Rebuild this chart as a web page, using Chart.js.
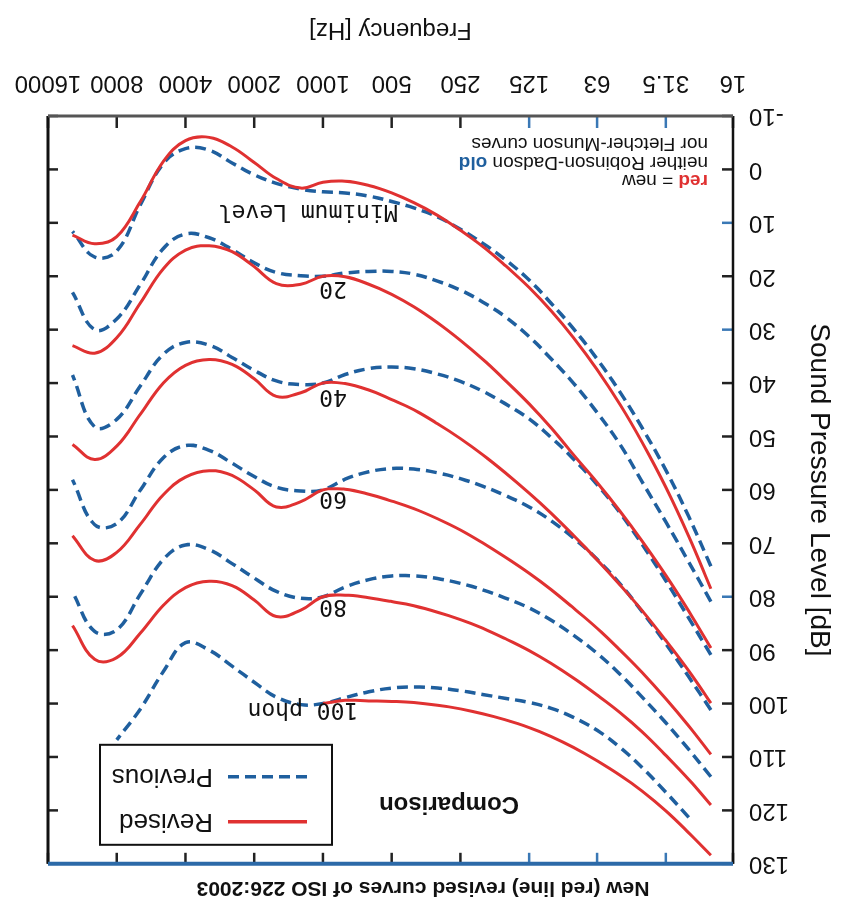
<!DOCTYPE html>
<html>
<head>
<meta charset="utf-8">
<script src="https://cdn.jsdelivr.net/npm/chart.js@4.4.1/dist/chart.umd.min.js"></script>
<style>
  html, body { margin: 0; padding: 0; background: #fff; }
  #wrap { width: 846px; height: 904px; overflow: hidden; }
  /* the reference picture is printed upside down */
  #iso-chart { display: block; transform: rotate(180deg); }
</style>
</head>
<body>
<div id="wrap"><canvas id="iso-chart" width="846" height="904"></canvas></div>
<script>
// third-octave frequencies [Hz]
var freqs = [20, 25, 31.5, 40, 50, 63, 80, 100, 125, 160, 200, 250, 315, 400, 500,
             630, 800, 1000, 1250, 1600, 2000, 2500, 3150, 4000, 5000, 6300, 8000, 10000, 12500];

var xTicks = [16, 31.5, 63, 125, 250, 500, 1000, 2000, 4000, 8000, 16000];

// revised curves (ISO 226:2003), dB SPL
var revisedMin = [78.5, 68.7, 59.5, 51.1, 44.0, 37.5, 31.5, 26.5, 22.1, 17.9, 14.4, 11.4, 8.6, 6.2, 4.4,
                  3.0, 2.2, 2.4, 3.5, 1.7, -1.3, -4.2, -6.0, -5.4, -1.5, 6.0, 12.6, 13.9, 12.3];
var revised20 = [89.6, 82.7, 76.0, 69.6, 64.0, 58.6, 53.4, 48.4, 43.9, 39.4, 35.5, 32.0, 28.7, 25.7, 23.4,
                 21.5, 20.1, 20.0, 21.5, 21.4, 18.2, 15.4, 14.3, 15.1, 18.6, 25.0, 31.5, 34.4, 33.0];
var revised40 = [99.9, 93.9, 88.2, 82.6, 77.8, 73.1, 68.5, 64.4, 60.6, 56.7, 53.4, 50.4, 47.6, 45.0, 43.1,
                 41.3, 40.1, 40.0, 41.8, 42.5, 39.2, 36.5, 35.6, 36.7, 40.0, 45.8, 51.8, 54.3, 51.5];
var revised60 = [109.5, 104.2, 99.1, 94.2, 90.0, 85.9, 82.1, 78.7, 75.6, 72.5, 69.9, 67.5, 65.4, 63.5, 62.1,
                 60.8, 59.9, 60.0, 62.2, 63.2, 60.0, 57.3, 56.4, 57.6, 60.9, 66.4, 71.7, 73.2, 68.6];
var revised80 = [119.0, 114.2, 109.7, 105.3, 101.7, 98.4, 95.2, 92.5, 90.1, 87.8, 85.9, 84.3, 82.9, 81.7, 80.9,
                 80.2, 79.7, 80.0, 82.5, 83.7, 80.6, 77.9, 77.1, 78.3, 81.6, 86.8, 91.4, 91.7, 85.4];
var revised100 = [128.4, 124.2, 120.1, 116.4, 113.4, 110.7, 108.2, 106.2, 104.5, 103.0, 101.9, 101.0, 100.3, 99.8, 99.6,
                  99.5, 99.4, 100.0, null, null, null, null, null, null, null, null, null, null, null];

// previous curves (blue dashed)
var previousMin = [74.3, 65.0, 56.3, 48.4, 41.7, 35.5, 29.8, 25.1, 20.7, 16.8, 13.8, 11.2, 8.9, 7.2, 6.0,
                   5.0, 4.4, 4.2, 3.7, 2.6, 1.0, -1.2, -3.6, -3.9, -1.1, 6.6, 15.3, 16.4, 11.6];
var previous20 = [80.9, 73.5, 66.0, 58.5, 51.5, 45.5, 40.0, 35.5, 31.3, 27.5, 24.8, 22.6, 20.9, 19.6, 19.1,
                  19.1, 19.4, 20.0, 19.9, 19.3, 17.5, 15.0, 12.8, 12.1, 14.8, 21.5, 28.0, 30.0, 23.0];
var previous40 = [90.9, 84.0, 77.0, 70.2, 64.3, 59.0, 54.2, 50.2, 46.7, 43.8, 41.5, 39.7, 38.3, 37.3, 37.0,
                  37.3, 38.4, 40.0, 40.3, 39.6, 37.6, 35.2, 32.9, 32.4, 34.6, 40.5, 46.8, 48.2, 38.5];
var previous60 = [101.2, 95.0, 88.8, 82.8, 77.6, 73.0, 69.0, 65.8, 63.2, 61.0, 59.3, 57.9, 56.8, 56.1, 56.0,
                  56.6, 58.0, 60.0, 60.2, 59.5, 57.5, 55.0, 52.6, 51.7, 54.0, 60.0, 66.3, 66.5, 58.1];
var previous80 = [113.7, 108.6, 103.6, 98.8, 94.5, 90.6, 87.2, 84.4, 82.1, 80.2, 78.7, 77.5, 76.6, 76.1, 76.1,
                  76.8, 78.2, 80.0, 80.3, 79.0, 76.5, 73.8, 71.2, 70.3, 73.0, 79.5, 86.2, 86.5, 79.1];
var previous100 = [null, 121.3, 116.6, 112.0, 108.2, 105.0, 102.6, 100.9, 99.8, 99.0, 98.3, 97.6, 97.1, 96.9, 97.1,
                   97.8, 98.9, 100.0, 100.2, 98.8, 96.0, 93.0, 90.0, 88.6, 94.0, 101.0, 106.8, null, null];

// curve labels: text, frequency, level (left end of the baseline)
var curveLabels = [
  ['Minimum Level', 470, 6.7],
  ['20', 785, 21.0],
  ['40', 785, 41.3],
  ['60', 785, 60.4],
  ['80', 785, 80.6],
  ['100 phon', 700, 99.9]
];

var RED = '#e03131';
var BLUE = '#1f5f9e';
var NARROW = "'Liberation Sans Narrow', 'Liberation Sans', Arial, sans-serif";
var SANS = "'Liberation Sans', Arial, sans-serif";

function toPoints(values) {
  var pts = [];
  for (var i = 0; i < freqs.length; i++) {
    if (values[i] !== null) pts.push({ x: freqs[i], y: values[i] });
  }
  return pts;
}

function revised(values) {
  return { label: 'Revised', data: toPoints(values), borderColor: RED, borderWidth: 3,
           tension: 0.4, pointRadius: 0, fill: false };
}
function previous(values) {
  return { label: 'Previous', data: toPoints(values), borderColor: BLUE, borderWidth: 3.5,
           borderDash: [11, 6], tension: 0.4, pointRadius: 0, fill: false };
}

function line(ctx, x1, y1, x2, y2) {
  ctx.beginPath(); ctx.moveTo(x1, y1); ctx.lineTo(x2, y2); ctx.stroke();
}

// frame with inward ticks, curve labels, notes and legend box
var extras = {
  id: 'extras',
  afterDraw: function (chart) {
    var ctx = chart.ctx, ca = chart.chartArea;
    var xs = chart.scales.x, ys = chart.scales.y;
    ctx.save();

    // ticks
    ctx.lineWidth = 2.5;
    ys.ticks.forEach(function (t) {
      var py = ys.getPixelForValue(t.value);
      ctx.strokeStyle = [10, 30, 80].indexOf(t.value) >= 0 ? '#3a78b5' : '#222';
      line(ctx, ca.left, py, ca.left + 11, py);
      ctx.strokeStyle = '#222';
      line(ctx, ca.right - 10, py, ca.right, py);
    });
    xs.ticks.forEach(function (t) {
      var px = xs.getPixelForValue(t.value);
      ctx.strokeStyle = [31.5, 63, 125].indexOf(t.value) >= 0 ? '#3a78b5' : '#222';
      line(ctx, px, ca.bottom, px, ca.bottom - 12);
      line(ctx, px, ca.top, px, ca.top + 11);
    });

    // frame
    ctx.strokeStyle = '#111'; ctx.lineWidth = 2.5;
    line(ctx, ca.left, ca.top, ca.left, ca.bottom);
    ctx.lineWidth = 3;
    line(ctx, ca.right, ca.top, ca.right, ca.bottom);
    ctx.strokeStyle = '#555'; ctx.lineWidth = 3;
    line(ctx, ca.left, ca.bottom, ca.right, ca.bottom);
    ctx.strokeStyle = '#2c6aa8'; ctx.lineWidth = 4;
    line(ctx, ca.left, ca.top, ca.right, ca.top);

    // curve labels
    ctx.fillStyle = '#111';
    ctx.font = "23px 'DejaVu Sans Mono', monospace";
    ctx.textAlign = 'left'; ctx.textBaseline = 'alphabetic';
    curveLabels.forEach(function (l) {
      ctx.fillText(l[0], xs.getPixelForValue(l[1]), ys.getPixelForValue(l[2]));
    });

    // note
    var nx = ca.left + 25;
    ctx.textBaseline = 'middle';
    ctx.font = 'bold 19px ' + SANS; ctx.fillStyle = RED;
    ctx.fillText('red', nx, ca.bottom - 64);
    var w = ctx.measureText('red').width;
    ctx.font = '19px ' + SANS; ctx.fillStyle = '#111';
    ctx.fillText(' = new', nx + w, ca.bottom - 64);
    ctx.fillText('neither Robinson-Dadson ', nx, ca.bottom - 46);
    w = ctx.measureText('neither Robinson-Dadson ').width;
    ctx.font = 'bold 19px ' + SANS; ctx.fillStyle = BLUE;
    ctx.fillText('old', nx + w, ca.bottom - 46);
    ctx.font = '19px ' + SANS; ctx.fillStyle = '#111';
    ctx.fillText('nor Fletcher-Munson curves', nx, ca.bottom - 27);

    // legend
    var bx = ca.right - 284, by = ca.top + 19;
    ctx.fillStyle = '#fff';
    ctx.fillRect(bx, by, 232, 100);
    ctx.strokeStyle = '#111'; ctx.lineWidth = 2;
    ctx.strokeRect(bx, by, 232, 100);
    ctx.lineWidth = 3.5;
    ctx.strokeStyle = RED;
    line(ctx, bx + 25, by + 23, bx + 104, by + 23);
    ctx.strokeStyle = BLUE; ctx.setLineDash([11, 6]);
    line(ctx, bx + 25, by + 68, bx + 104, by + 68);
    ctx.setLineDash([]);
    ctx.fillStyle = '#111';
    ctx.font = '26px ' + SANS;
    ctx.fillText('Revised', bx + 119, by + 24);
    ctx.fillText('Previous', bx + 119, by + 69);
    ctx.font = 'bold 24px ' + NARROW;
    ctx.textAlign = 'center';
    ctx.fillText('Comparison', ca.left + 284, ca.top + 60);

    ctx.restore();
  }
};

var ctx = document.getElementById('iso-chart').getContext('2d');
var chart = new Chart(ctx, {
  type: 'line',
  data: {
    datasets: [
      revised(revisedMin), revised(revised20), revised(revised40),
      revised(revised60), revised(revised80), revised(revised100),
      previous(previousMin), previous(previous20), previous(previous40),
      previous(previous60), previous(previous80), previous(previous100)
    ]
  },
  options: {
    responsive: false,
    animation: false,
    devicePixelRatio: 1,
    layout: { padding: 0 },
    plugins: {
      legend: { display: false },
      tooltip: { enabled: false },
      title: {
        display: true,
        text: 'New (red line) revised curves of ISO 226:2003',
        color: '#111',
        font: { family: SANS, size: 21, weight: 'bold' },
        padding: { top: 4, bottom: 11 }
      }
    },
    scales: {
      x: {
        type: 'logarithmic',
        min: 16,
        max: 16000,
        grid: { display: false, drawTicks: false },
        border: { display: false },
        afterBuildTicks: function (scale) {
          scale.ticks = xTicks.map(function (v) { return { value: v }; });
        },
        afterFit: function (scale) {
          scale.height = 116;
          scale.paddingRight = 48;
        },
        ticks: {
          autoSkip: false,
          maxRotation: 0,
          padding: 19,
          color: '#111',
          font: { family: SANS, size: 24 },
          callback: function (v) { return String(v); }
        },
        title: {
          display: true,
          text: 'Frequency [Hz]',
          color: '#111',
          font: { family: SANS, size: 24 },
          padding: { top: 0, bottom: 15 }
        }
      },
      y: {
        min: -10,
        max: 130,
        grid: { display: false, drawTicks: false },
        border: { display: false },
        afterFit: function (scale) { scale.width = 113; },
        ticks: {
          stepSize: 10,
          padding: 16,
          color: '#111',
          font: { family: NARROW, size: 24 }
        },
        title: {
          display: true,
          text: 'Sound Pressure Level [dB]',
          color: '#111',
          font: { family: SANS, size: 28 },
          padding: { top: 10, bottom: 0 }
        }
      }
    }
  },
  plugins: [extras]
});
</script>
</body>
</html>
